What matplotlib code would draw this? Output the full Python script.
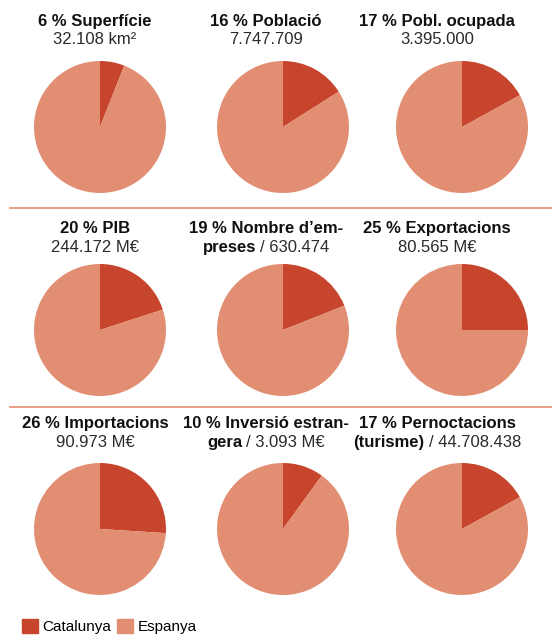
import numpy as np
import matplotlib
matplotlib.use('Agg')
import matplotlib.pyplot as plt
import matplotlib.patches as mpatches

plt.rcParams['font.family'] = ['Liberation Sans', 'DejaVu Sans']

# Share of Catalunya in Spain, per indicator (percent).
cat_pct = [6, 16, 17, 20, 19, 25, 26, 10, 17]

# Header lines: each line is a list of (text, bold) segments.
line1 = [
    [("6 % Superfície", True)],
    [("16 % Població", True)],
    [("17 % Pobl. ocupada", True)],
    [("20 % PIB", True)],
    [("19 % Nombre d\u2019em-", True)],
    [("25 % Exportacions", True)],
    [("26 % Importacions", True)],
    [("10 % Inversió estran-", True)],
    [("17 % Pernoctacions", True)],
]
line2 = [
    [("32.108 km²", False)],
    [("7.747.709", False)],
    [("3.395.000", False)],
    [("244.172 M€", False)],
    [("preses", True), ("/ 630.474", False)],
    [("80.565 M€", False)],
    [("90.973 M€", False)],
    [("gera", True), ("/ 3.093 M€", False)],
    [("(turisme)", True), ("/ 44.708.438", False)],
]
legend_labels = ['Catalunya', 'Espanya']

col_dark = '#C8452D'
col_light = '#E18E72'
col_rule = '#E8967A'

W, H = 552, 636
fig = plt.figure(figsize=(W / 100, H / 100), dpi=100)
renderer = fig.canvas.get_renderer()

pie_cx = [100, 283, 462]
pie_cy = [127, 330, 529]
txt_cx = [95, 266, 437]
base1 = [26, 233, 428]
base2 = [44, 252, 447]
R = 66
GAP = 4.5  # px between bold and regular segments


def fx(px):
    return px / W


def fy(py):
    return 1 - py / H


def draw_line(segs, xc, yb):
    # draw mixed bold/regular segments centred on xc
    objs = []
    for s, b in segs:
        t = fig.text(0, fy(yb), s, fontsize=12, va='baseline', ha='left',
                     fontweight='bold' if b else 'normal',
                     color='#111111' if b else '#2a2a2a')
        objs.append(t)
    widths = [t.get_window_extent(renderer).width for t in objs]
    total = sum(widths) + GAP * (len(objs) - 1)
    x = xc - total / 2
    for t, w in zip(objs, widths):
        t.set_x(fx(x))
        x += w + GAP


for i, p in enumerate(cat_pct):
    r, c = divmod(i, 3)
    cx, cy = pie_cx[c], pie_cy[r]
    ax = fig.add_axes([fx(cx - R), fy(cy + R), 2 * R / W, 2 * R / H])
    ax.pie([p, 100 - p], colors=[col_dark, col_light], startangle=90,
           counterclock=False, wedgeprops=dict(linewidth=0))
    ax.set_xlim(-1, 1)
    ax.set_ylim(-1, 1)
    ax.set_aspect('equal')
    ax.axis('off')
    draw_line(line1[i], txt_cx[c], base1[r])
    draw_line(line2[i], txt_cx[c], base2[r])

# separators between rows
for yy in [208, 407]:
    fig.add_artist(plt.Line2D([fx(10), 1], [fy(yy), fy(yy)], color=col_rule, lw=1.3))

handles = [mpatches.Patch(color=col_dark, label=legend_labels[0]),
           mpatches.Patch(color=col_light, label=legend_labels[1])]
fig.legend(handles=handles, loc='lower left', bbox_to_anchor=(fx(22), fy(634)),
           ncol=2, frameon=False, fontsize=11, borderpad=0, borderaxespad=0,
           handlelength=1.05, handleheight=1.05, handletextpad=0.3,
           columnspacing=0.35)

fig.savefig('out.png', dpi=100)
